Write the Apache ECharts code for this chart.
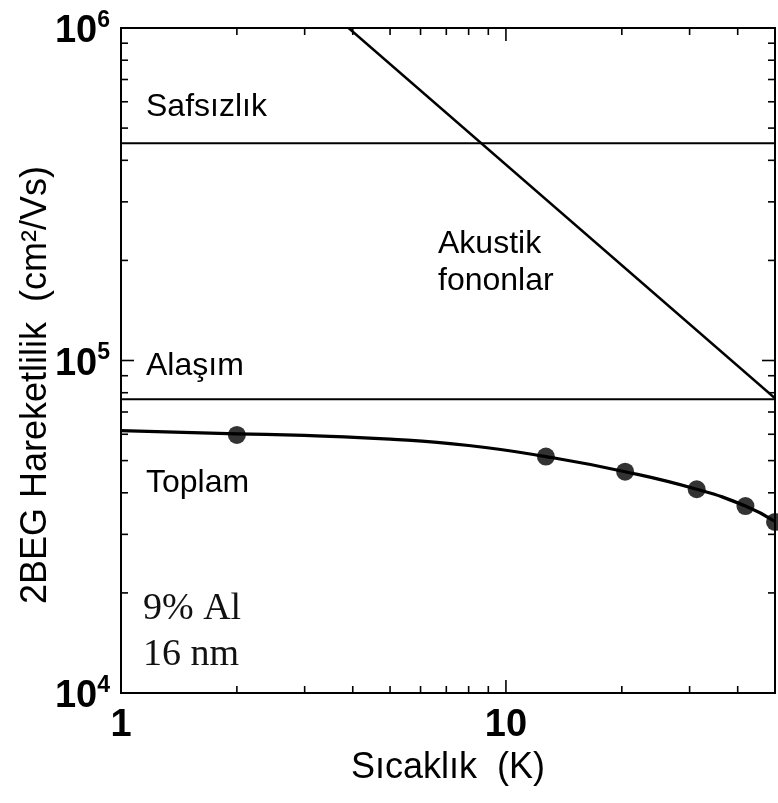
<!DOCTYPE html>
<html><head><meta charset="utf-8">
<script src="https://cdn.jsdelivr.net/npm/echarts@6/dist/echarts.min.js"></script>
<style>html,body{margin:0;padding:0;background:#fff}#c{width:778px;height:803px}</style>
</head><body><div id="c"></div>
<script>
// ---- data ----
const impurityMobility = 4.5e5;          // Safsızlık
const alloyMobility = 7.64e4;            // Alaşım
const acousticLine = [[3.9, 1.0e6], [50, 7.7e4]];   // Akustik fononlar
const totalCurve = [[1, 6.15e4], [2, 6.02e4], [3, 5.95e4], [5, 5.80e4], [8, 5.55e4], [12.7, 5.14e4], [20.4, 4.63e4], [31.3, 4.10e4], [41.9, 3.65e4], [50, 3.28e4]];
const totalPoints = [[2, 5.97e4], [12.7, 5.14e4], [20.4, 4.63e4], [31.3, 4.10e4], [41.9, 3.65e4], [50, 3.27e4]];
const xRange = [1, 50];
const yRange = [1e4, 1e6];
const xTickMinor = [2, 3, 4, 5, 6, 7, 8, 9, 20, 30, 40];
const xTickMajor = [10];
const yTickMinor = [2e4, 3e4, 4e4, 5e4, 6e4, 7e4, 8e4, 9e4, 2e5, 3e5, 4e5, 5e5, 6e5, 7e5, 8e5, 9e5];
const yTickMajor = [1e5];
const xTitle = 'Sıcaklık  (K)';
const yTitle = '2BEG Hareketlilik  (cm²/Vs)';

const SANS = '"Liberation Sans", Arial, sans-serif';
const SERIF = '"Liberation Serif", "Times New Roman", serif';

function isPow10(v) { const l = Math.log10(v); return Math.abs(l - Math.round(l)) < 1e-6; }

const chart = echarts.init(document.getElementById('c'), null, {renderer: 'canvas'});

const tickStyle = {stroke: '#000', lineWidth: 1.6};
const option = {
  animation: false,
  backgroundColor: '#fff',
  grid: {left: 121, top: 28, width: 659, height: 665, show: true, borderColor: '#000', borderWidth: 2, backgroundColor: 'transparent'},
  xAxis: {
    type: 'log', logBase: 10, min: xRange[0], max: xRange[1],
    axisLine: {show: false}, axisTick: {show: false}, splitLine: {show: false},
    axisLabel: {
      margin: 14,
      formatter: v => isPow10(v) ? '{b|' + Math.round(v) + '}' : '',
      rich: {b: {fontSize: 38, fontWeight: 'bold', fontFamily: SANS, color: '#000'}}
    },
    name: xTitle, nameLocation: 'middle', nameGap: 44,
    nameTextStyle: {fontSize: 36, fontFamily: SANS, color: '#000'}
  },
  yAxis: {
    type: 'log', logBase: 10, min: yRange[0], max: yRange[1],
    axisLine: {show: false}, axisTick: {show: false}, splitLine: {show: false},
    axisLabel: {
      margin: 11,
      formatter: v => isPow10(v) ? '{b|10}{s|' + Math.round(Math.log10(v)) + '}' : '',
      rich: {
        b: {fontSize: 38, lineHeight: 38, fontWeight: 'bold', fontFamily: SANS, color: '#000', padding: [8, 0, 0, 0]},
        s: {fontSize: 23, lineHeight: 23, fontWeight: 'bold', fontFamily: SANS, color: '#000', verticalAlign: 'top'}
      }
    }
  },
  graphic: [
    {type: 'text', x: 36, y: 385, rotation: Math.PI / 2, style: {text: yTitle, fontSize: 36, fontFamily: SANS, fill: '#000', align: 'center', verticalAlign: 'middle'}},
    {type: 'text', x: 146, y: 107, style: {text: 'Safsızlık', fontSize: 32, fontFamily: SANS, fill: '#000', align: 'left', verticalAlign: 'middle'}},
    {type: 'text', x: 146, y: 366, style: {text: 'Alaşım', fontSize: 32, fontFamily: SANS, fill: '#000', align: 'left', verticalAlign: 'middle'}},
    {type: 'text', x: 146, y: 483, style: {text: 'Toplam', fontSize: 32, fontFamily: SANS, fill: '#000', align: 'left', verticalAlign: 'middle'}},
    {type: 'text', x: 438, y: 244, style: {text: 'Akustik', fontSize: 32, fontFamily: SANS, fill: '#000', align: 'left', verticalAlign: 'middle'}},
    {type: 'text', x: 438, y: 281, style: {text: 'fononlar', fontSize: 32, fontFamily: SANS, fill: '#000', align: 'left', verticalAlign: 'middle'}},
    {type: 'text', x: 143, y: 609, style: {text: '9% Al', fontSize: 38, fontFamily: SERIF, fill: '#111', align: 'left', verticalAlign: 'middle'}},
    {type: 'text', x: 143, y: 655, style: {text: '16 nm', fontSize: 38, fontFamily: SERIF, fill: '#111', align: 'left', verticalAlign: 'middle'}}
  ],
  series: [
    {type: 'line', data: [[xRange[0], impurityMobility], [xRange[1], impurityMobility]], symbol: 'none', lineStyle: {color: '#000', width: 2}},
    {type: 'line', data: [[xRange[0], alloyMobility], [xRange[1], alloyMobility]], symbol: 'none', lineStyle: {color: '#000', width: 2}},
    {type: 'line', data: acousticLine, symbol: 'none', lineStyle: {color: '#000', width: 2.4}},
    {type: 'line', data: totalCurve, symbol: 'none', smooth: 0.5, lineStyle: {color: '#000', width: 3.2}},
    {type: 'scatter', data: totalPoints, symbol: 'circle', symbolSize: 18, itemStyle: {color: '#000'}},
    {
      type: 'custom', silent: true,
      data: xTickMinor.map(v => [v, yRange[0], 0]).concat(xTickMajor.map(v => [v, yRange[0], 1])),
      encode: {x: 0, y: 1},
      renderItem: (params, api) => {
        const v = api.value(0), len = api.value(2) ? 13 : 7;
        const b = api.coord([v, yRange[0]]), t = api.coord([v, yRange[1]]);
        return {type: 'group', children: [
          {type: 'line', shape: {x1: b[0], y1: b[1], x2: b[0], y2: b[1] - len}, style: tickStyle},
          {type: 'line', shape: {x1: t[0], y1: t[1], x2: t[0], y2: t[1] + len}, style: tickStyle}
        ]};
      }
    },
    {
      type: 'custom', silent: true,
      data: yTickMinor.map(v => [xRange[0], v, 0]).concat(yTickMajor.map(v => [xRange[0], v, 1])),
      encode: {x: 0, y: 1},
      renderItem: (params, api) => {
        const v = api.value(1), len = api.value(2) ? 13 : 7;
        const l = api.coord([xRange[0], v]), r = api.coord([xRange[1], v]);
        return {type: 'group', children: [
          {type: 'line', shape: {x1: l[0], y1: l[1], x2: l[0] + len, y2: l[1]}, style: tickStyle},
          {type: 'line', shape: {x1: r[0], y1: r[1], x2: r[0] - len, y2: r[1]}, style: tickStyle}
        ]};
      }
    }
  ]
};
chart.setOption(option);
</script></body></html>
